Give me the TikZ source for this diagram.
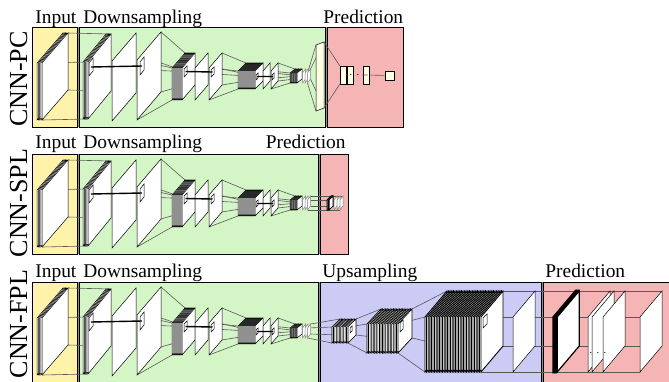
\documentclass[tikz,border=0pt]{standalone}
\usepackage{fontspec}
\setmainfont{Liberation Serif}
\usetikzlibrary{calc}

\definecolor{inyellow}{HTML}{FFF2AA}
\definecolor{dsgreen}{HTML}{D4F5C6}
\definecolor{usblue}{HTML}{CBCBF5}
\definecolor{prpink}{HTML}{F5B5B5}
\definecolor{fccream}{HTML}{FFFDE4}

\pgfdeclarelayer{panel}
\pgfdeclarelayer{wires}
\pgfsetlayers{panel,wires,main}

\tikzset{
    sheet/.style={draw=black, fill=white, line width=0.25pt},
    wire/.style={draw=black!65, line width=0.3pt},
    kern/.style={line width=0.7pt},
    panel/.style={draw=black, line width=0.5pt},
    lbl/.style={inner sep=0pt, anchor=base west, font=\fontsize{9.7}{11}\selectfont},
    net/.style={inner sep=0pt, anchor=base, rotate=90, font=\fontsize{13}{14}\selectfont},
    fcbox/.style={draw, fill=fccream, inner sep=0pt, line width=0.3pt, minimum width=3pt, minimum height=9pt},
    outbox/.style={fcbox, minimum width=4.5pt, minimum height=4.5pt},
    dots/.style={inner sep=0pt, font=\fontsize{4}{4}\selectfont}
}

% feature map: [opts]{name}{x}{bottom y}{height}{dx}{dy}
\newcommand{\fmap}[7][]{\path[sheet,#1] (#3,#4) coordinate (#2-bl) -- ++(0,-#5) coordinate (#2-tl) -- ++(#6,-#7) coordinate (#2-tr) -- ++(0,#5) coordinate (#2-br) -- cycle;
    \coordinate (#2-c) at ($(#2-bl)!0.5!(#2-tr)$);}
% stack of maps: [opts]{name}{last}{x0}{step}{bottom y}{height}{dx}{dy}
\newcommand{\fstack}[9][]{\foreach \i in {0,...,#3}{\fmap[#1]{#2\i}{#4+\i*#5}{#6}{#7}{#8}{#9}}}
\newcommand{\link}[2]{\begin{pgfonlayer}{wires}\draw[wire] (#1-tl) -- (#2-tl) (#1-tr) -- (#2-tr) (#1-br) -- (#2-br) (#1-bl) -- (#2-bl);\end{pgfonlayer}}

\newcommand{\downchain}{%
    \fstack{in}{4}{37}{1.25}{120}{57}{26}{30}
    \fstack{ca}{4}{83}{1.25}{119}{57}{23}{28}
    \fmap{sb}{112}{121}{60}{24}{28}
    \fmap{sc}{137}{120}{60}{24}{28}
    \fstack{cb}{10}{172}{1}{100}{32}{13}{15}
    \fmap{sd}{195}{100}{32}{13}{15}
    \fmap{se}{209}{100}{32}{13}{15}
    \fstack{cc}{17}{238}{1}{89}{18}{8}{8}
    \fmap{sf}{263}{89}{18}{7}{8}
    \fmap{sg}{271}{89}{18}{7}{8}
    \fstack{cd}{10}{290}{0.7}{83}{10}{5}{4}
    \foreach \tn/\tx in {ta/302.5, tb/305, tc/307.5}{\fmap[draw=black!50]{\tn}{\tx}{83}{10}{3}{4}}
    \fmap{ka}{89}{76}{13}{4}{5}
    \fmap{kc}{140}{75}{13}{4}{5}
    \fmap{kb}{184}{77}{8}{3}{3}
    \fmap{kd}{211}{77}{7}{3}{3}
    \fmap{ke}{256}{80}{5}{2}{2}
    \fmap{kg}{272}{80}{5}{2}{2}
    \draw[kern] (ka-c) -- (kc-c) (kb-c) -- (kd-c) (ke-c) -- (kg-c);
    \link{in4}{ca4} \link{sc}{cb0} \link{se}{cc0} \link{sg}{cd0}
    \begin{pgfonlayer}{wires}
        \draw[wire] (kc-tr) -- (kb-c) (kc-br) -- (kb-c) (kd-tr) -- (ke-c) (kd-br) -- (ke-c) (kg-tr) -- (cd10-c) (kg-br) -- (cd10-c);
    \end{pgfonlayer}
}

\begin{document}
\begin{tikzpicture}[x=0.5pt, y=-0.5pt]
    \useasboundingbox (0,0) rectangle (669,381);

    \begin{pgfonlayer}{panel}
        \fill[black!45] (32,27) rectangle (403,127);
        \path[panel, fill=inyellow] (32,27) rectangle (77,127);
        \path[panel, fill=dsgreen] (79,27) rectangle (325,127);
        \path[panel, fill=prpink] (327,27) rectangle (403,127);
        \fill[black!45] (32,154) rectangle (348,254);
        \path[panel, fill=inyellow] (32,154) rectangle (77,254);
        \path[panel, fill=dsgreen] (79,154) rectangle (318,254);
        \path[panel, fill=prpink] (320,154) rectangle (348,254);
        \fill[black!45] (32,282) rectangle (671,384);
        \path[panel, fill=inyellow] (32,282) rectangle (77,384);
        \path[panel, fill=dsgreen] (79,282) rectangle (318,384);
        \path[panel, fill=usblue] (320,282) rectangle (541,384);
        \path[panel, fill=prpink] (543,282) rectangle (671,384);
    \end{pgfonlayer}

    \node[net] (netA) at (27,79) {CNN-PC};
    \node[net] (netB) at (27,203) {CNN-SPL};
    \node[net] (netC) at (27,324) {CNN-FPL};

    \node[lbl] (inA) at (35,23) {Input};
    \node[lbl] (dsA) at (83,23) {Downsampling};
    \node[lbl] (prA) at (323,23) {Prediction};
    \node[lbl] (inB) at (35,148) {Input};
    \node[lbl] (dsB) at (83,148) {Downsampling};
    \node[lbl, anchor=base east] (prB) at (346,148) {Prediction};
    \node[lbl] (inC) at (35,277) {Input};
    \node[lbl] (dsC) at (83,277) {Downsampling};
    \node[lbl] (usC) at (322,277) {Upsampling};
    \node[lbl] (prC) at (545,277) {Prediction};

    % CNN-PC
    \downchain
    \fmap[fill=fccream]{fc}{316}{111}{66}{8}{3}
    \link{tc}{fc}
    \node[fcbox] (fa) at (343,75) {};
    \node[fcbox] (fb) at (350,75) {};
    \node[dots] (fd) at (358,75) {$\cdots$};
    \node[fcbox] (ff) at (366,75) {};
    \node[outbox] (fo) at (389.5,75.5) {};
    \draw[wire] (fc-tr) -- (fa.north west) (fc-br) -- (fa.south west) (fb) -- (fd) (fd) -- (ff) (ff) -- (fo);

    % CNN-SPL
    \begin{scope}[shift={(0,127)}]
        \downchain
        \fstack[line width=0.4pt]{pa}{3}{327}{0.7}{83}{10}{4}{4}
        \foreach \tn/\tx in {pb/334, pc/337, pd/340}{\fmap[draw=black!50]{\tn}{\tx}{83}{10}{3}{4}}
        \link{tc}{pd}
    \end{scope}

    % CNN-FPL
    \begin{scope}[shift={(0,255)}]
        \downchain
        \fstack[line width=0.3pt]{ua}{11}{332}{1.45}{88}{16}{8}{8}
        \fstack[line width=0.35pt]{ub}{20}{367}{1.55}{98}{29}{14}{15}
        \fstack[line width=0.45pt]{uc}{35}{425}{1.6}{117}{55}{22}{26}
        \fmap{ud}{513}{117}{55}{22}{26}
        \fstack[line width=0.6pt]{pa}{7}{553}{0.6}{117}{55}{22}{26}
        \foreach \tn/\tx in {pb/588, pc/592, pd/603, pe/640}{\fmap{\tn}{\tx}{117}{55}{22}{26}}
        \node[dots] (pdots) at (598,98) {$\cdots$};
        \fmap{kua}{350}{78}{5}{2}{2}
        \fmap{kub}{400}{77}{9}{3}{3}
        \fmap{kuc}{483}{73}{10}{4}{4}
        \link{tc}{ua0} \link{ua11}{ub0} \link{ub20}{uc0} \link{uc35}{pe}
    \end{scope}
\end{tikzpicture}
\end{document}
